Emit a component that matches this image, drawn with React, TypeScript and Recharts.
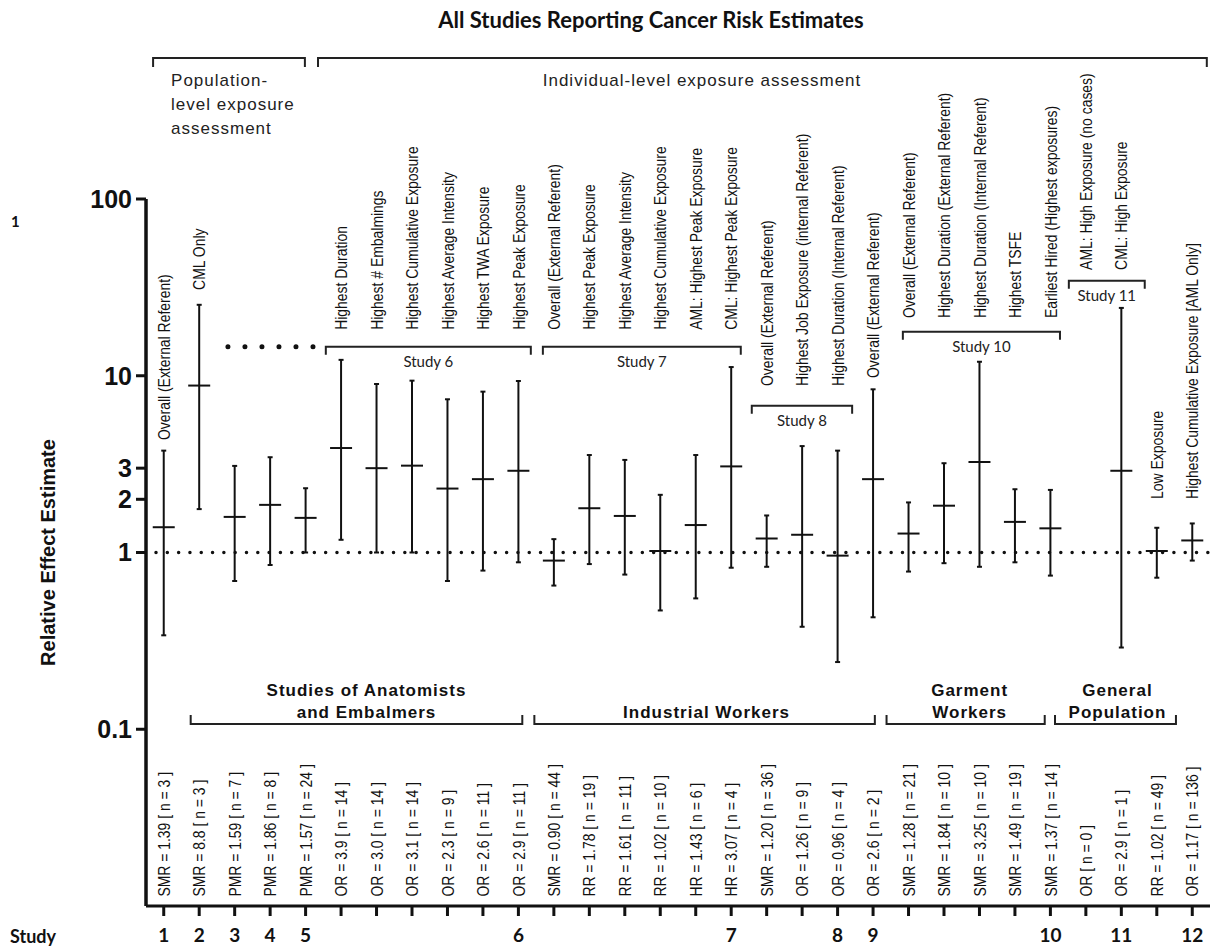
import React from 'react';
import { ScatterChart, Scatter, XAxis, YAxis, ErrorBar, ReferenceLine } from 'recharts';

const WIDTH = 1211;
const HEIGHT = 950;

const ARIAL = '"Liberation Sans", Arial, sans-serif';
const CALIBRI = 'Lato, Carlito, Calibri, sans-serif';
const INK = '#111';

// one slot per reported estimate, left to right
const study = [1, 2, 3, 4, 5, 6, 6, 6, 6, 6, 6, 7, 7, 7, 7, 7, 7, 8, 8, 8, 9, 10, 10, 10, 10, 10, 11, 11, 12, 12];
const measure = ['SMR', 'SMR', 'PMR', 'PMR', 'PMR', 'OR', 'OR', 'OR', 'OR', 'OR', 'OR', 'SMR', 'RR', 'RR', 'RR', 'HR', 'HR', 'SMR', 'OR', 'OR', 'OR', 'SMR', 'SMR', 'SMR', 'SMR', 'SMR', 'OR', 'OR', 'RR', 'OR'];
const estimate = ['1.39', '8.8', '1.59', '1.86', '1.57', '3.9', '3.0', '3.1', '2.3', '2.6', '2.9', '0.90', '1.78', '1.61', '1.02', '1.43', '3.07', '1.20', '1.26', '0.96', '2.6', '1.28', '1.84', '3.25', '1.49', '1.37', '', '2.9', '1.02', '1.17'];
const ciLow = [0.34, 1.76, 0.69, 0.85, 1.0, 1.18, 1.0, 1.0, 0.69, 0.79, 0.88, 0.65, 0.86, 0.75, 0.47, 0.55, 0.82, 0.83, 0.38, 0.24, 0.43, 0.78, 0.87, 0.83, 0.88, 0.74, null, 0.29, 0.72, 0.9];
const ciHigh = [3.77, 25.2, 3.09, 3.46, 2.31, 12.3, 8.98, 9.38, 7.36, 8.13, 9.34, 1.19, 3.56, 3.34, 2.12, 3.56, 11.2, 1.62, 4.0, 3.77, 8.38, 1.92, 3.2, 12.0, 2.28, 2.26, null, 24.2, 1.38, 1.46];
const cases = [3, 3, 7, 8, 24, 14, 14, 14, 9, 11, 11, 44, 19, 11, 10, 6, 4, 36, 9, 4, 2, 21, 10, 10, 19, 14, 0, 1, 49, 136];
const descriptions = [
  'Overall (External Referent)', 'CML Only', '', '', '',
  'Highest Duration', 'Highest # Embalmings', 'Highest Cumulative Exposure', 'Highest Average Intensity', 'Highest TWA Exposure', 'Highest Peak Exposure',
  'Overall (External Referent)', 'Highest Peak Exposure', 'Highest Average Intensity', 'Highest Cumulative Exposure', 'AML: Highest Peak Exposure', 'CML: Highest Peak Exposure',
  'Overall (External Referent)', 'Highest Job Exposure (internal Referent)', 'Highest Duration (Internal Referent)',
  'Overall (External Referent)',
  'Overall (External Referent)', 'Highest Duration (External Referent)', 'Highest Duration (Internal Referent)', 'Highest TSFE', 'Earliest Hired (Highest exposures)',
  'AML: High Exposure (no cases)', 'CML: High Exposure',
  'Low Exposure', 'Highest Cumulative Exposure [AML Only]',
];

// where each study's description labels start (y value at the foot of the text)
const labelFloor: Record<number, number> = { 1: 4.33, 2: 30.6, 6: 18.2, 7: 18.2, 8: 8.75, 9: 9.71, 10: 21.2, 11: 39.7, 12: 2.01 };
const CASE_FLOOR = 0.0113;

const studyBrackets = [
  { text: 'Study 6', from: 5.57, to: 11.35, at: 14.6 },
  { text: 'Study 7', from: 11.69, to: 17.27, at: 14.6 },
  { text: 'Study 8', from: 17.58, to: 20.41, at: 6.77 },
  { text: 'Study 10', from: 21.84, to: 26.27, at: 17.75 },
  { text: 'Study 11', from: 26.52, to: 28.66, at: 34.5 },
];

const exposureBrackets = [
  { lines: ['Population-', 'level exposure', 'assessment'], from: 0.7, to: 4.98, anchor: 'start', shift: 18 },
  { lines: ['Individual-level exposure assessment'], from: 5.35, to: 30.41, anchor: 'middle', shift: 384 },
];
const EXPOSURE_LEVEL = 628;

const groupBrackets = [
  { lines: ['Studies of Anatomists', 'and Embalmers'], from: 1.76, to: 11.11, dx: 10 },
  { lines: ['Industrial Workers'], from: 11.45, to: 21.05, dx: 2 },
  { lines: ['Garment', 'Workers'], from: 21.38, to: 25.84, dx: 4 },
  { lines: ['General', 'Population'], from: 26.13, to: 29.54, dx: 2 },
];
const GROUP_LEVEL = 0.107;

const yTicks = [0.1, 1, 2, 3, 10, 100];
const xTicks = study.map((_, i) => i + 1);

const points = estimate
  .map((e, i) => ({ x: i + 1, y: Number(e), lo: ciLow[i], hi: ciHigh[i], e }))
  .filter((p) => p.e !== '')
  .map((p) => ({ x: p.x, y: p.y, err: [p.y - (p.lo as number), (p.hi as number) - p.y] }));

const topLabels = descriptions
  .map((text, i) => ({ x: i + 1, y: labelFloor[study[i]], text }))
  .filter((d) => d.text !== '');

const caseLabels = measure.map((m, i) => ({
  x: i + 1,
  y: CASE_FLOOR,
  text: estimate[i] ? `${m} = ${estimate[i]} [ n = ${cases[i]} ]` : `${m} [ n = ${cases[i]} ]`,
}));

const studyTick = (v: number) => {
  const i = v - 1;
  return study[i] !== study[i + 1] ? String(study[i]) : '';
};

const MeanTick = (p: any) => {
  if (p.cx == null || p.cy == null) return null;
  return <line x1={p.cx - 11} x2={p.cx + 11} y1={p.cy} y2={p.cy} stroke={INK} strokeWidth={2} />;
};

// condensed sans, rotated to read bottom-up
const VerticalText = (p: any) => {
  if (p.cx == null || p.cy == null) return null;
  const text = p.payload?.text ?? p.text;
  return (
    <text
      x={0}
      y={0}
      dy="0.36em"
      transform={`translate(${p.cx} ${p.cy}) rotate(-90) scale(0.82 1)`}
      textAnchor="start"
      fill={INK}
      fontFamily={ARIAL}
      fontSize={17}
    >
      {text}
    </text>
  );
};

const YTitle = (p: any) => {
  const vb = p.viewBox || { x: 0, y: 0, width: 0, height: 0 };
  const cx = vb.x + 48;
  const cy = vb.y + vb.height / 2;
  return (
    <text
      x={cx}
      y={cy}
      dy="0.35em"
      transform={`rotate(-90 ${cx} ${cy})`}
      textAnchor="middle"
      fill={INK}
      fontFamily={ARIAL}
      fontWeight={700}
      fontSize={20}
    >
      Relative Effect Estimate
    </text>
  );
};

const groupText = { fill: INK, fontFamily: ARIAL, fontWeight: 700, fontSize: 17, letterSpacing: 1 };

export default function App() {
  return (
    <div style={{ position: 'relative', width: WIDTH, height: HEIGHT, background: '#fff' }}>
      <style>{'body{margin:0}'}</style>
      <div style={{ position: 'absolute', left: 0, width: 1302, top: 6, textAlign: 'center', fontFamily: CALIBRI, fontWeight: 700, fontSize: 22, color: INK }}>
        All Studies Reporting Cancer Risk Estimates
      </div>
      <div style={{ position: 'absolute', left: 11, top: 212, fontFamily: CALIBRI, fontWeight: 700, fontSize: 15, color: INK }}>1</div>
      <div style={{ position: 'absolute', left: 10, top: 925, fontFamily: CALIBRI, fontWeight: 700, fontSize: 18, color: INK }}>Study</div>
      <ScatterChart width={WIDTH} height={HEIGHT} margin={{ top: 199, right: 1, bottom: 0, left: 0 }}>
        <XAxis
          type="number"
          dataKey="x"
          domain={[0.5, 30.5]}
          ticks={xTicks}
          interval={0}
          tickFormatter={studyTick}
          height={44}
          tickSize={10}
          tickMargin={13}
          axisLine={{ stroke: INK, strokeWidth: 3 }}
          tickLine={{ stroke: INK, strokeWidth: 3 }}
          tick={{ fill: INK, fontFamily: CALIBRI, fontWeight: 700, fontSize: 19 }}
        />
        <YAxis
          type="number"
          dataKey="y"
          scale="log"
          domain={[0.01, 100]}
          ticks={yTicks}
          interval={0}
          width={146}
          tickSize={10}
          tickMargin={4}
          tickFormatter={(v: number) => String(v)}
          axisLine={{ stroke: INK, strokeWidth: 3.5 }}
          tickLine={{ stroke: INK, strokeWidth: 3 }}
          tick={{ fill: INK, fontFamily: ARIAL, fontWeight: 700, fontSize: 25 }}
          label={(p: any) => <YTitle {...p} />}
        />

        <ReferenceLine
          y={1}
          stroke={INK}
          strokeWidth={3.5}
          strokeDasharray="0.01 11.3"
          strokeDashoffset={-10}
          strokeLinecap="round"
          ifOverflow="visible"
        />
        <ReferenceLine
          segment={[{ x: 2.81, y: 14.6 }, { x: 5.21, y: 14.6 }]}
          stroke={INK}
          strokeWidth={5}
          strokeDasharray="0.01 17"
          strokeLinecap="round"
          ifOverflow="visible"
        />

        {exposureBrackets.map((b) => (
          <ReferenceLine
            key={b.lines[0]}
            segment={[{ x: b.from, y: EXPOSURE_LEVEL }, { x: b.to, y: EXPOSURE_LEVEL }]}
            ifOverflow="visible"
            shape={(p: any) => (
              <g>
                <path d={`M${p.x1},${p.y1 + 9}V${p.y1}H${p.x2}V${p.y1 + 9}`} fill="none" stroke="#222" strokeWidth={2} />
                {b.lines.map((t, k) => (
                  <text
                    key={t}
                    x={p.x1 + b.shift}
                    y={p.y1 + 28 + k * 24}
                    textAnchor={b.anchor}
                    fill="#222"
                    fontFamily={ARIAL}
                    fontSize={17}
                    letterSpacing={1}
                  >
                    {t}
                  </text>
                ))}
              </g>
            )}
          />
        ))}

        {studyBrackets.map((b) => (
          <ReferenceLine
            key={b.text}
            segment={[{ x: b.from, y: b.at }, { x: b.to, y: b.at }]}
            ifOverflow="visible"
            shape={(p: any) => (
              <g>
                <path d={`M${p.x1},${p.y1 + 8}V${p.y1}H${p.x2}V${p.y1 + 8}`} fill="none" stroke="#222" strokeWidth={2} />
                <text x={(p.x1 + p.x2) / 2} y={p.y1 + 20} textAnchor="middle" fill="#222" fontFamily={CALIBRI} fontSize={15}>
                  {b.text}
                </text>
              </g>
            )}
          />
        ))}

        {groupBrackets.map((b) => (
          <ReferenceLine
            key={b.lines[0]}
            segment={[{ x: b.from, y: GROUP_LEVEL }, { x: b.to, y: GROUP_LEVEL }]}
            ifOverflow="visible"
            shape={(p: any) => (
              <g>
                <path d={`M${p.x1},${p.y1 - 9}V${p.y1}H${p.x2}V${p.y1 - 9}`} fill="none" stroke="#222" strokeWidth={2} />
                {b.lines.map((t, k) => (
                  <text
                    key={t}
                    x={(p.x1 + p.x2) / 2 + b.dx}
                    y={p.y1 - 6 - (b.lines.length - 1 - k) * 22}
                    textAnchor="middle"
                    {...groupText}
                  >
                    {t}
                  </text>
                ))}
              </g>
            )}
          />
        ))}

        <Scatter data={topLabels} isAnimationActive={false} shape={VerticalText} />
        <Scatter data={caseLabels} isAnimationActive={false} shape={VerticalText} />
        <Scatter data={points} isAnimationActive={false} shape={MeanTick}>
          <ErrorBar dataKey="err" direction="y" width={2.5} strokeWidth={2} stroke={INK} isAnimationActive={false} />
        </Scatter>
      </ScatterChart>
    </div>
  );
}
